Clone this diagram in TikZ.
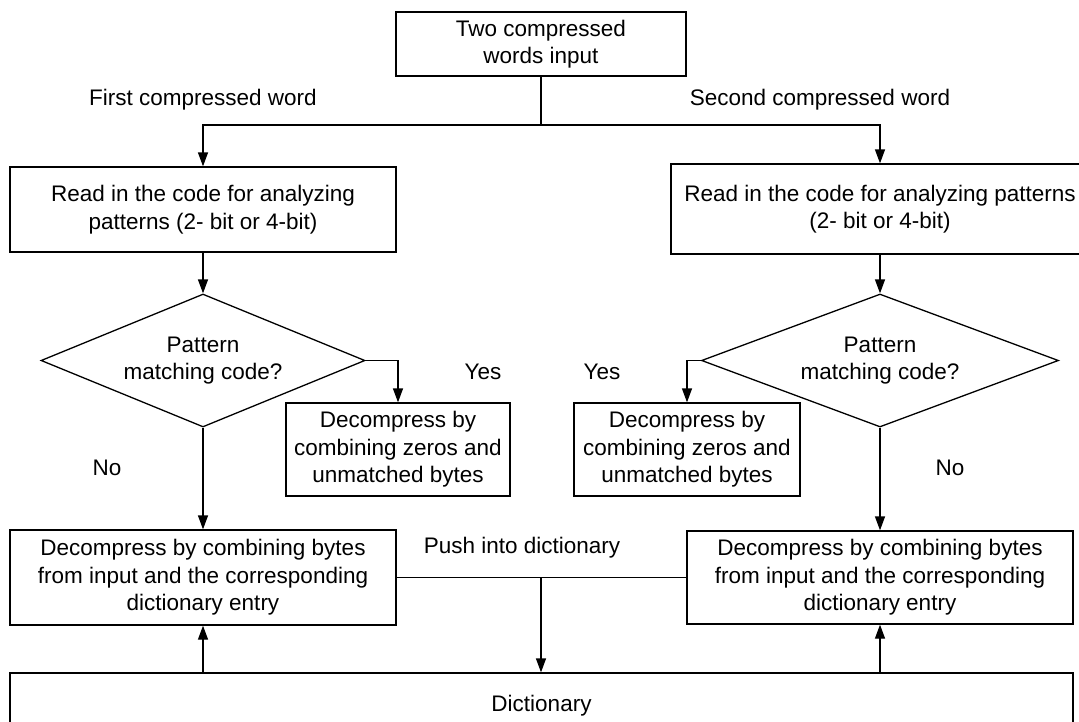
\documentclass[tikz,border=0pt]{standalone}
\usepackage{fontspec}
\setmainfont{Liberation Sans}
\usetikzlibrary{shapes.geometric,arrows.meta}

\begin{document}
\begin{tikzpicture}[x=1pt,y=-1pt,
  line width=1.3pt,
  every node/.style={font=\fontsize{22.5}{27.5}\selectfont, align=center, inner sep=0pt},
  box/.style={draw, rectangle, line width=1.3pt},
  decision/.style={draw, diamond, line width=1.3pt},
  arr/.style={-{Triangle[length=14pt,width=10pt]}},
  lbl/.style={anchor=center}
]
\clip (0,0) rectangle (1079,721);

% process boxes
\node[box, minimum width=290pt, minimum height=64pt] (top) at (541,44) {Two compressed\\words input};
\node[box, minimum width=386pt, minimum height=85pt] (readL) at (203,209.5) {Read in the code for analyzing\\patterns (2- bit or 4-bit)};
\node[box, minimum width=418pt, minimum height=90pt] (readR) at (880,209) {Read in the code for analyzing patterns\\(2- bit or 4-bit)};

% decisions
\node[decision, shape aspect=2.44, minimum width=324pt, minimum height=133pt] (diaL) at (203,360.5) {Pattern\\matching code?};
\node[decision, shape aspect=2.68, minimum width=357pt, minimum height=133pt] (diaR) at (880,360.5) {Pattern\\matching code?};

% zero-pattern branches
\node[box, minimum width=224pt, minimum height=93pt] (smallL) at (398,449.5) {Decompress by\\combining zeros and\\unmatched bytes};
\node[box, minimum width=226pt, minimum height=93pt] (smallR) at (687,449.5) {Decompress by\\combining zeros and\\unmatched bytes};

% dictionary branches
\node[box, minimum width=386pt, minimum height=95pt] (decL) at (203,577.5) {Decompress by combining bytes\\from input and the corresponding\\dictionary entry};
\node[box, minimum width=386pt, minimum height=93pt] (decR) at (880,577.5) {Decompress by combining bytes\\from input and the corresponding\\dictionary entry};

\node[box, minimum width=1063pt, minimum height=66pt] (dict) at (541.5,706) {Dictionary};

% split of the input
\coordinate (split) at (541,125);
\draw (top.south) -- (split);
\draw[arr] (split) -| (readL.north);
\draw[arr] (split) -| (readR.north);

\draw[arr] (readL.south) -- (diaL.north);
\draw[arr] (readR.south) -- (diaR.north);

\draw[arr] (diaL.east) -| (smallL.north);
\draw[arr] (diaR.west) -| (smallR.north);

\draw[arr] (diaL.south) -- (decL.north);
\draw[arr] (diaR.south) -- (decR.north);

% push into dictionary
\coordinate (push) at (541,577.5);
\draw (decL.east) -- (decR.west);
\draw[arr] (push) -- (push |- dict.north);

% dictionary lookups
\draw[arr] (decL.south |- dict.north) -- (decL.south);
\draw[arr] (decR.south |- dict.north) -- (decR.south);

% labels
\node[lbl] (lfirst) at (203,100) {First compressed word};
\node[lbl] (lsecond) at (820,100) {Second compressed word};
\node[lbl] (lyesL) at (483,372) {Yes};
\node[lbl] (lyesR) at (602,372) {Yes};
\node[lbl] (lnoL) at (107,468) {No};
\node[lbl] (lnoR) at (950,468) {No};
\node[lbl] (lpush) at (522,548) {Push into dictionary};
\end{tikzpicture}
\end{document}
